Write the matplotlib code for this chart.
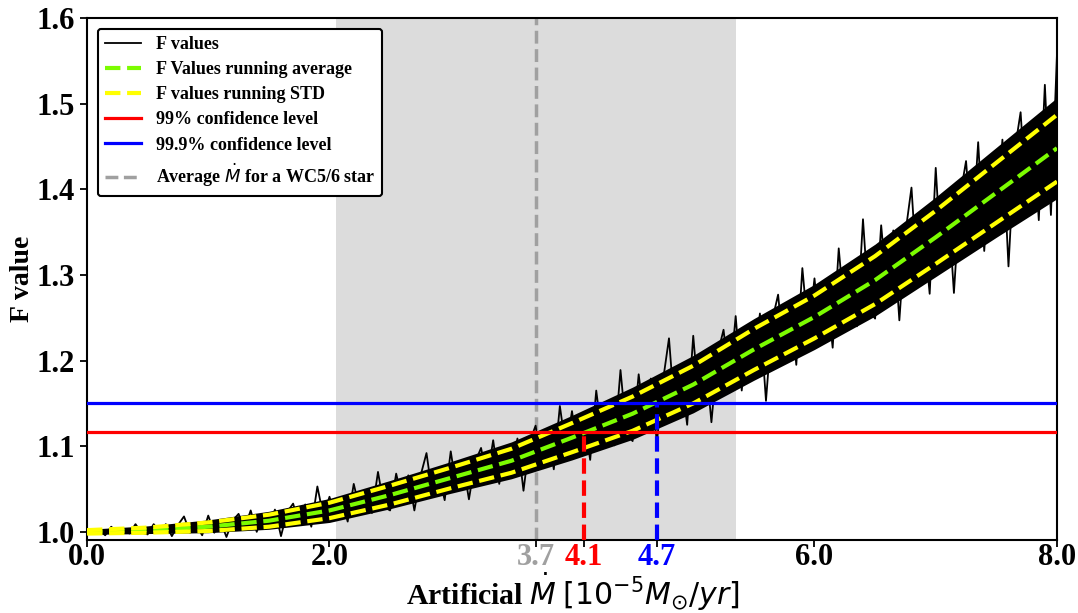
import numpy as np
import matplotlib
matplotlib.use("Agg")
import matplotlib.pyplot as plt

# running statistics read at knots every 0.5 in Mdot
x_knots = [0.0, 0.5, 1.0, 1.5, 2.0, 2.5, 3.0, 3.5, 4.0, 4.5, 5.0, 5.5, 6.0, 6.5, 7.0, 7.5, 8.0]
f_avg = [1.000, 1.002, 1.006, 1.013, 1.025, 1.043, 1.063, 1.083, 1.110, 1.138,
         1.172, 1.213, 1.251, 1.294, 1.344, 1.396, 1.448]
std_upper = [1.002, 1.005, 1.011, 1.020, 1.034, 1.054, 1.075, 1.097, 1.127, 1.158,
             1.194, 1.237, 1.276, 1.322, 1.375, 1.431, 1.487]
std_lower = [0.998, 0.999, 1.001, 1.006, 1.016, 1.032, 1.051, 1.069, 1.093, 1.118,
             1.150, 1.189, 1.226, 1.266, 1.313, 1.361, 1.409]
# dense black core of the F values trace
core_hi = [1.003, 1.007, 1.014, 1.024, 1.039, 1.060, 1.082, 1.105, 1.136, 1.169,
           1.206, 1.249, 1.289, 1.336, 1.391, 1.449, 1.507]
core_lo = [0.997, 0.998, 0.999, 1.003, 1.011, 1.027, 1.045, 1.062, 1.084, 1.108,
           1.139, 1.177, 1.213, 1.252, 1.298, 1.344, 1.389]

# F values sampled every 0.05
f_values = [
    1.004, 0.998, 1.002, 0.996, 1.006, 0.999, 1.004, 0.998, 1.009, 0.999,
    0.997, 1.009, 1.000, 1.009, 0.995, 1.008, 1.018, 0.999, 1.008, 0.996,
    1.019, 0.999, 1.013, 0.994, 1.013, 1.021, 1.004, 1.025, 1.000, 1.021,
    1.006, 1.026, 0.995, 1.023, 1.033, 1.009, 1.032, 1.006, 1.053, 1.018,
    1.041, 1.016, 1.037, 1.012, 1.056, 1.026, 1.048, 1.022, 1.070, 1.029,
    1.025, 1.068, 1.037, 1.066, 1.025, 1.065, 1.092, 1.042, 1.067, 1.037,
    1.094, 1.048, 1.081, 1.038, 1.081, 1.098, 1.062, 1.107, 1.056, 1.099,
    1.069, 1.109, 1.048, 1.105, 1.124, 1.078, 1.121, 1.073, 1.147, 1.096,
    1.141, 1.092, 1.131, 1.084, 1.165, 1.109, 1.149, 1.101, 1.189, 1.114,
    1.106, 1.184, 1.126, 1.179, 1.104, 1.176, 1.226, 1.134, 1.180, 1.125,
    1.229, 1.145, 1.205, 1.128, 1.207, 1.236, 1.173, 1.252, 1.165, 1.240,
    1.189, 1.255, 1.153, 1.246, 1.277, 1.203, 1.270, 1.195, 1.308, 1.230,
    1.296, 1.225, 1.283, 1.215, 1.331, 1.251, 1.309, 1.240, 1.365, 1.259,
    1.249, 1.358, 1.278, 1.352, 1.247, 1.349, 1.402, 1.290, 1.355, 1.278,
    1.425, 1.305, 1.389, 1.279, 1.391, 1.433, 1.342, 1.455, 1.328, 1.436,
    1.361, 1.458, 1.310, 1.444, 1.490, 1.378, 1.480, 1.364, 1.522, 1.370,
    1.558,
]

conf_99 = 1.117
conf_999 = 1.151
mdot_wc = 3.7
mdot_99 = 4.1
mdot_999 = 4.7
shade_range = (2.05, 5.35)

xtick_vals = [0.0, 2.0, 3.7, 4.1, 4.7, 6.0, 8.0]
xtick_labels = ["0.0", "2.0", "3.7", "4.1", "4.7", "6.0", "8.0"]
xtick_colors = ["black", "black", "#a0a0a0", "red", "blue", "black", "black"]
ytick_vals = [1.0, 1.1, 1.2, 1.3, 1.4, 1.5, 1.6]

plt.rcParams["font.family"] = ["Liberation Serif", "DejaVu Serif"]

fig = plt.figure(figsize=(10.78, 6.13), dpi=100)
ax = fig.add_axes([0.0807, 0.1191, 0.8998, 0.8515])

ax.axvspan(*shade_range, color="#dcdcdc", zorder=0, lw=0)
ax.axvline(mdot_wc, color="#a0a0a0", ls="--", lw=2.5, zorder=1,
           label=r"Average $\dot{M}$ for a WC5/6 star")

x_f = np.linspace(0, 8, len(f_values))
ax.fill_between(x_knots, core_lo, core_hi, color="black", lw=0, zorder=2)
ax.plot(x_f, f_values, color="black", lw=1.3, zorder=2, label="F values")
ax.plot(x_knots, f_avg, color="lawngreen", ls="--", lw=3, zorder=3,
        label="F Values running average")
ax.plot(x_knots, std_upper, color="yellow", ls="--", lw=3, zorder=3,
        label="F values running STD")
ax.plot(x_knots, std_lower, color="yellow", ls="--", lw=3, zorder=3)
ax.axhline(conf_99, color="red", lw=2.3, zorder=4, label="99% confidence level")
ax.axhline(conf_999, color="blue", lw=2.3, zorder=4, label="99.9% confidence level")

ymin = 0.9905
ax.vlines(mdot_99, ymin, conf_99, color="red", ls="--", lw=3, zorder=5)
ax.vlines(mdot_999, ymin, conf_999, color="blue", ls="--", lw=3, zorder=5)

ax.set_xlim(0, 8)
ax.set_ylim(ymin, 1.6)
ax.set_xticks(xtick_vals)
ax.set_xticklabels(xtick_labels)
ax.set_yticks(ytick_vals)
ax.tick_params(labelsize=22, width=1.3, length=5)
ax.tick_params(axis="x", pad=-3)
for lbl, c in zip(ax.get_xticklabels(), xtick_colors):
    lbl.set_color(c)
for lbl in ax.get_xticklabels() + ax.get_yticklabels():
    lbl.set_fontweight("bold")
for s in ax.spines.values():
    s.set_linewidth(1.5)

# x label: bold serif word followed by regular mathtext
fig.text(0.531, 0.013, r"Artificial $\dot{M}$ $[10^{-5}M_{\odot}/yr]$",
         fontsize=21.5, fontweight="bold", ha="center", va="baseline")
ax.set_ylabel("F value", fontsize=20, fontweight="bold", labelpad=1)

handles, labels = ax.get_legend_handles_labels()
order = ["F values", "F Values running average", "F values running STD",
         "99% confidence level", "99.9% confidence level",
         r"Average $\dot{M}$ for a WC5/6 star"]
hmap = dict(zip(labels, handles))
leg = ax.legend([hmap[k] for k in order], order, loc="upper left",
                prop={"family": "Liberation Serif", "weight": "bold", "size": 13},
                framealpha=1, edgecolor="black", fancybox=True,
                borderaxespad=0.6, labelspacing=0.45)
leg.get_frame().set_linewidth(1.5)

fig.savefig("out.png", dpi=100)
